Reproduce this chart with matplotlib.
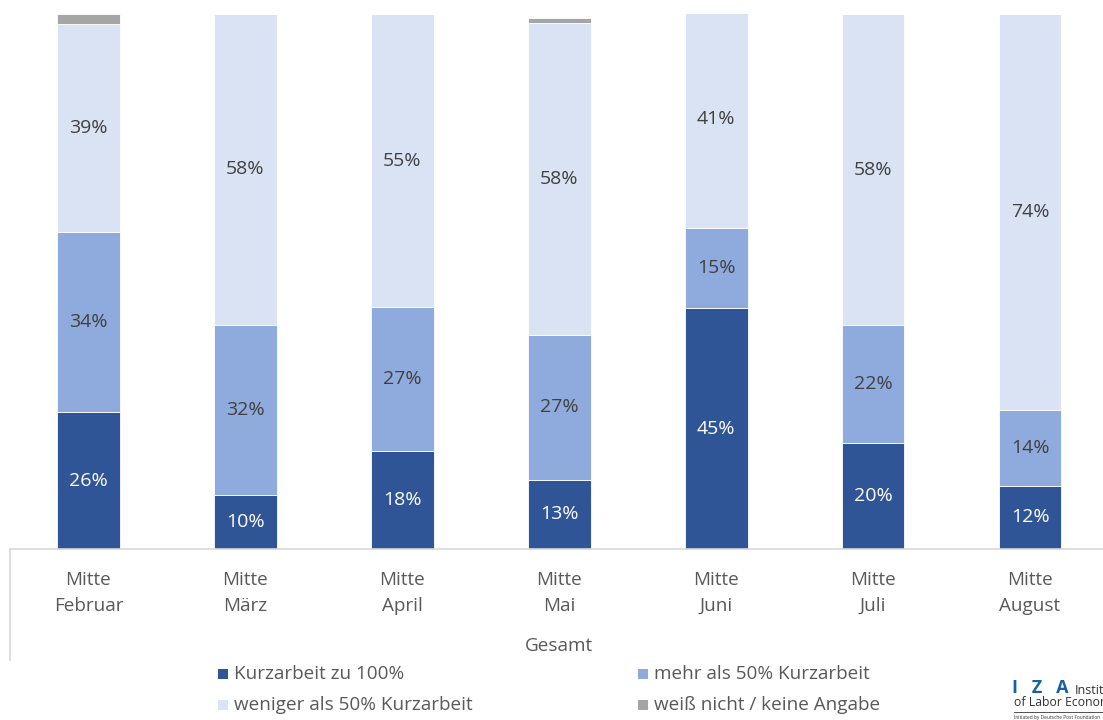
import matplotlib
matplotlib.use("Agg")
import matplotlib.pyplot as plt
from matplotlib.patches import Rectangle
from matplotlib.lines import Line2D
import numpy as np

plt.rcParams['font.family'] = ['Open Sans', 'DejaVu Sans']

categories = ["Mitte\nFebruar", "Mitte\nMärz", "Mitte\nApril", "Mitte\nMai",
              "Mitte\nJuni", "Mitte\nJuli", "Mitte\nAugust"]
series_names = ["Kurzarbeit zu 100%", "mehr als 50% Kurzarbeit",
                "weniger als 50% Kurzarbeit", "weiß nicht / keine Angabe"]
kurz100 = [25.6, 10.1, 18.3, 12.9, 45.0, 19.8, 11.8]
mehr50 = [33.6, 31.8, 26.9, 27.1, 15.0, 22.0, 14.2]
weniger50 = [38.9, 58.1, 54.8, 58.3, 40.6, 58.2, 74.0]
weiss_nicht = [1.9, 0.0, 0.0, 1.0, 0.0, 0.0, 0.0]
group_label = "Gesamt"

colors = ["#2F5597", "#8FAADC", "#DAE3F3", "#A5A5A5"]
label_colors = ["white", "#404040", "#404040", None]
text_grey = "#595959"

W, H = 1103, 720
fig = plt.figure(figsize=(W / 100, H / 100), dpi=100)
ax_left = 10 / W
ax_right = 1108.5 / W
ax_bottom = (H - 549) / H
ax_top = (H - 14) / H
ax = fig.add_axes([ax_left, ax_bottom, ax_right - ax_left, ax_top - ax_bottom])

x = np.arange(len(categories))
data = [kurz100, mehr50, weniger50, weiss_nicht]
bottom = np.zeros(len(categories))
for vals, c, lc in zip(data, colors, label_colors):
    vals = np.array(vals)
    ax.bar(x, vals, 0.4, bottom=bottom, color=c, edgecolor="white", linewidth=0.6)
    if lc is not None:
        for xi, v, b in zip(x, vals, bottom):
            if v > 0:
                ax.text(xi, b + v / 2, f"{round(v):d}%", ha="center", va="center",
                        color=lc, fontsize=14)
    bottom += vals

ax.set_xlim(-0.5, len(categories) - 0.5)
ax.set_ylim(0, 100)
for s in ["top", "right", "left"]:
    ax.spines[s].set_visible(False)
ax.spines["bottom"].set_color("#D9D9D9")
ax.spines["bottom"].set_linewidth(1.2)
ax.set_yticks([])
ax.set_xticks(x)
ax.set_xticklabels(categories, fontsize=13.6, color=text_grey, linespacing=1.62)
ax.tick_params(axis="x", length=0, pad=15.5)

# category box left border
fig.add_artist(Line2D([ax_left, ax_left], [(H - 549) / H, (H - 660) / H],
                      color="#D9D9D9", linewidth=1.2, transform=fig.transFigure))

fig.text(559 / W, 1 - 646 / H, group_label, ha="center", va="center",
         fontsize=13.6, color=text_grey)

# legend (manual placement)
positions = [(218, 674), (638, 674), (218, 705), (638, 705)]
for (px, py), name, c in zip(positions, series_names, colors):
    fig.add_artist(Rectangle((px / W, 1 - (py + 5) / H), 10 / W, 10 / H,
                             facecolor=c, edgecolor="none", transform=fig.transFigure))
    fig.text((px + 16) / W, 1 - py / H, name, ha="left", va="center",
             fontsize=13.6, color=text_grey)

# IZA logo (cut off at the right edge, as in the reference)
fig.text(1012 / W, 1 - 688 / H, "I   Z   A", ha="left", va="center", fontsize=13,
         color="#1560A8", fontweight="bold")
fig.text(1075 / W, 1 - 690 / H, "Institute", ha="left", va="center", fontsize=9,
         color="#333333")
fig.text(1014 / W, 1 - 703 / H, "of Labor Economics", ha="left", va="center",
         fontsize=8.8, color="#333333")
fig.add_artist(Line2D([1014 / W, 1.0], [1 - 712 / H, 1 - 712 / H], color="#333333",
                      linewidth=0.6, transform=fig.transFigure))
fig.text(1014 / W, 1 - 717 / H, "Initiated by Deutsche Post Foundation", ha="left",
         va="center", fontsize=3.5, color="#333333")

fig.savefig("out.png", dpi=100)
